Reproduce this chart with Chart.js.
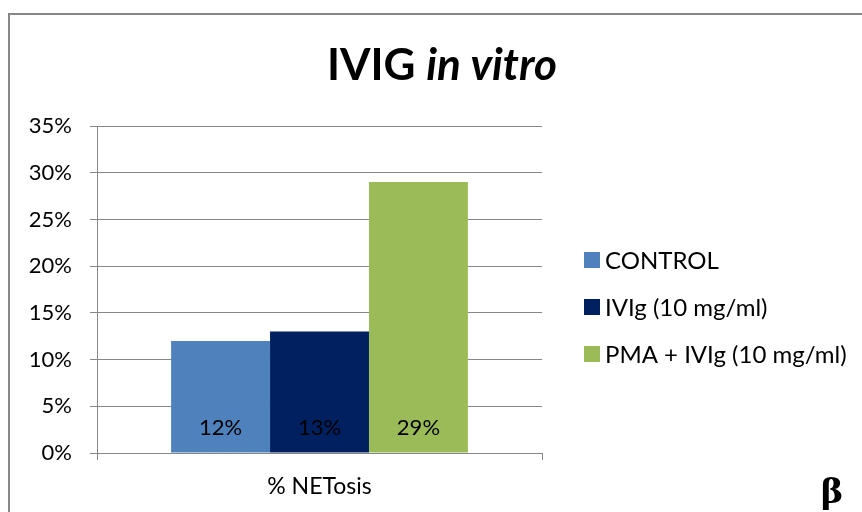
<!DOCTYPE html>
<html>
<head>
<meta charset="utf-8">
<script src="https://cdn.jsdelivr.net/npm/chart.js@4"></script>
<style>
  html, body { margin: 0; padding: 0; background: #fff; }
  #wrap { width: 862px; height: 512px; position: relative; }
</style>
</head>
<body>
<div id="wrap"><canvas id="myChart" width="862" height="512"></canvas></div>
<script>
const categories = ["% NETosis"];
const seriesNames = ["CONTROL", "IVIg (10 mg/ml)", "PMA + IVIg (10 mg/ml)"];
const seriesValues = [[12], [13], [29]];
const seriesColors = ["#4F81BD", "#002060", "#9BBB59"];
const yTicks = [0, 5, 10, 15, 20, 25, 30, 35];

const FONT = "Lato, 'Noto Sans', sans-serif";

// frame, title, data labels, legend and the beta mark
const decorations = {
  id: "decorations",
  afterDraw(chart) {
    const ctx = chart.ctx;
    ctx.save();

    // outer frame (continues past the image edge)
    ctx.strokeStyle = "#878787";
    ctx.lineWidth = 2;
    ctx.beginPath();
    ctx.moveTo(9, 520);
    ctx.lineTo(9, 14);
    ctx.lineTo(870, 14);
    ctx.stroke();

    // title: "IVIG " upright, "in vitro" italic
    const t1 = "IVIG ", t2 = "in vitro";
    ctx.fillStyle = "#000";
    ctx.textBaseline = "middle";
    ctx.font = "bold 44px " + FONT;
    const w1 = ctx.measureText(t1).width;
    ctx.font = "italic bold 44px " + FONT;
    const w2 = ctx.measureText(t2).width;
    let x = 442 - (w1 + w2) / 2;
    ctx.font = "bold 44px " + FONT;
    ctx.textAlign = "left";
    ctx.fillText(t1, x, 66);
    ctx.font = "italic bold 44px " + FONT;
    ctx.fillText(t2, x + w1, 66);

    // value labels near the bar bases
    ctx.font = "22px " + FONT;
    ctx.textAlign = "center";
    const yScale = chart.scales.y;
    chart.data.datasets.forEach((ds, i) => {
      const meta = chart.getDatasetMeta(i);
      meta.data.forEach((bar, j) => {
        ctx.fillStyle = "#000";
        ctx.fillText(ds.data[j] + "%", bar.x, yScale.getPixelForValue(0) - 25);
      });
    });

    // legend
    ctx.textAlign = "left";
    ctx.font = "24px " + FONT;
    const legendY = [260, 307, 354];
    seriesNames.forEach((name, i) => {
      ctx.fillStyle = seriesColors[i];
      ctx.fillRect(584, legendY[i] - 8, 16, 16);
      ctx.fillStyle = "#000";
      ctx.fillText(name, 605, legendY[i] + 1);
    });

    // beta mark
    ctx.font = "bold 34px 'DejaVu Serif', 'Liberation Serif', serif";
    ctx.textAlign = "center";
    ctx.fillText("\u03B2", 832, 494);

    ctx.restore();
  }
};

const ctx = document.getElementById("myChart").getContext("2d");

new Chart(ctx, {
  type: "bar",
  data: {
    labels: categories,
    datasets: seriesNames.map((name, i) => ({
      label: name,
      data: seriesValues[i],
      backgroundColor: seriesColors[i],
      borderWidth: 0,
      categoryPercentage: 0.667,
      barPercentage: 1.0
    }))
  },
  options: {
    responsive: false,
    animation: false,
    layout: { padding: { left: 0, top: 126, right: 320, bottom: 0 } },
    plugins: {
      legend: { display: false },
      title: { display: false },
      tooltip: { enabled: false }
    },
    scales: {
      x: {
        grid: { display: true, drawOnChartArea: false, offset: true, color: "#878787", tickLength: 7, lineWidth: 1 },
        border: { color: "#878787", width: 1 },
        ticks: { color: "#000", font: { family: FONT, size: 23 }, padding: 13 },
        afterFit(scale) { scale.height = 59; }
      },
      y: {
        min: 0,
        max: 35,
        afterBuildTicks(scale) { scale.ticks = yTicks.map(v => ({ value: v })); },
        grid: { color: "#878787", tickLength: 7, lineWidth: 1 },
        border: { color: "#878787", width: 1 },
        ticks: {
          color: "#000",
          font: { family: FONT, size: 22 },
          padding: 18,
          callback: v => v + "%"
        },
        afterFit(scale) { scale.width = 97; }
      }
    }
  },
  plugins: [decorations]
});
</script>
</body>
</html>
